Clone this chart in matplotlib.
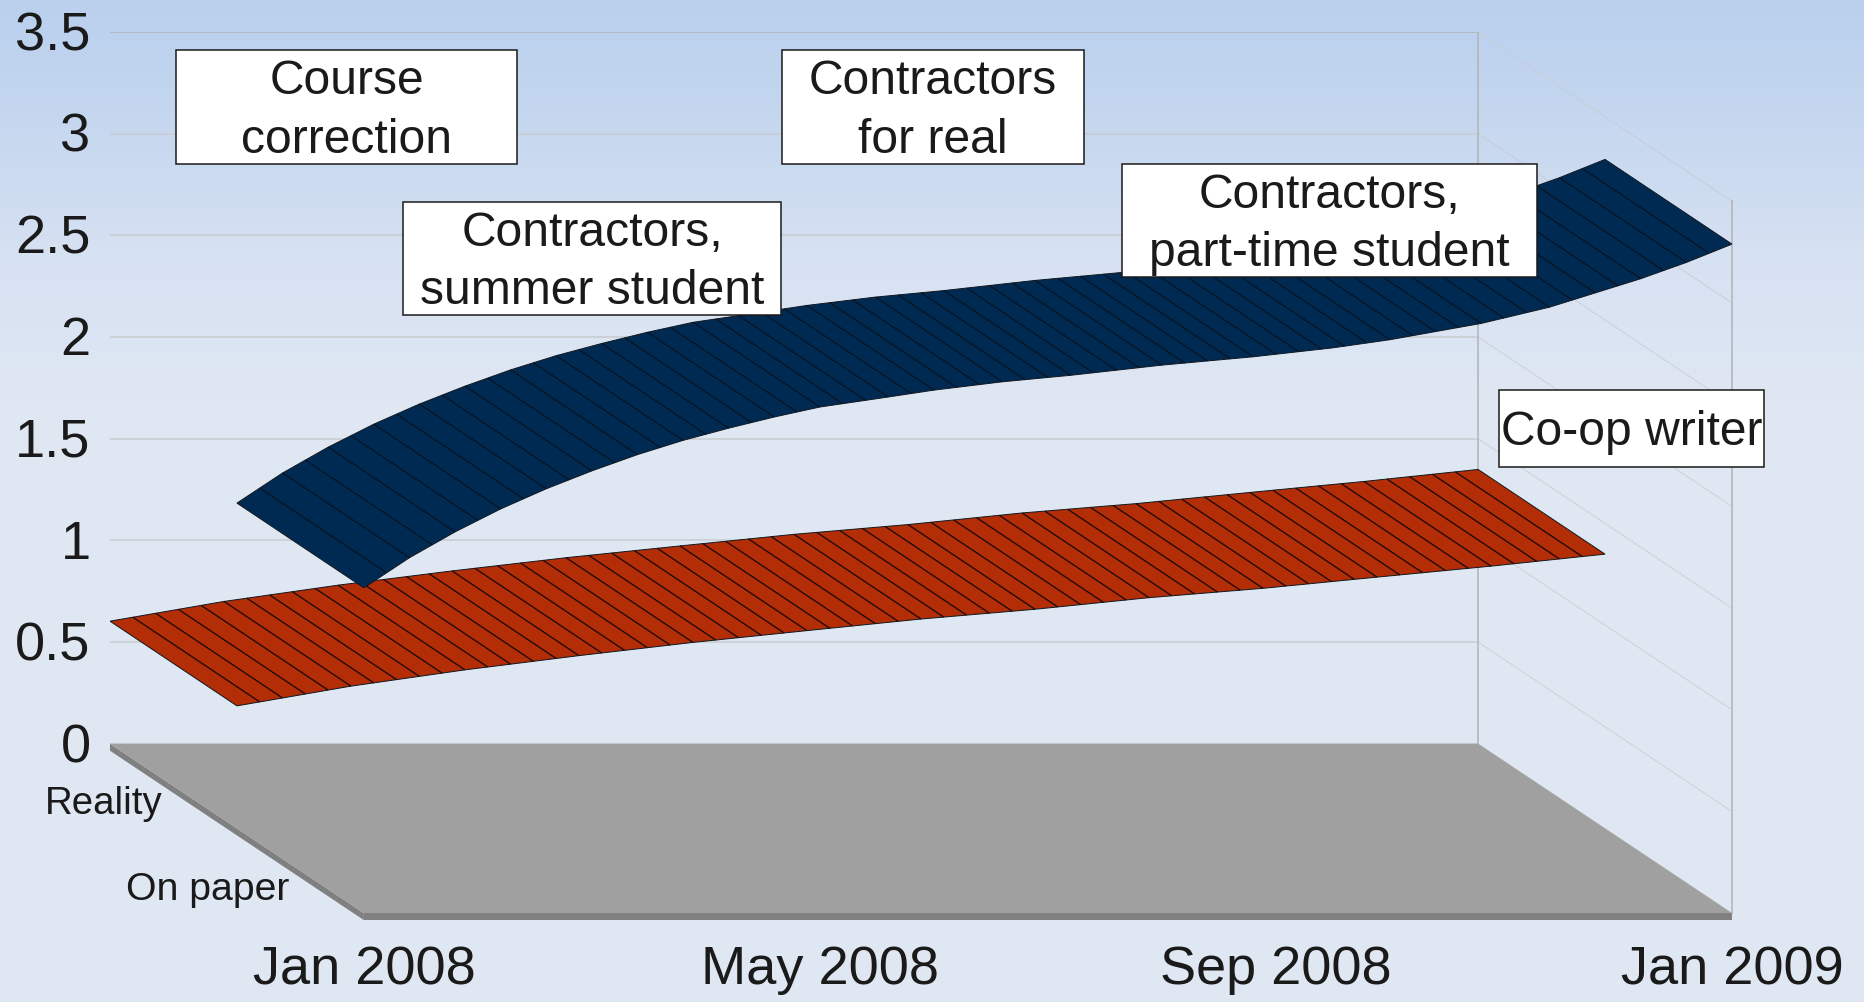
import numpy as np
import matplotlib
matplotlib.use("Agg")
import matplotlib.pyplot as plt
from matplotlib.colors import to_rgb
from matplotlib.patches import Polygon, Rectangle
from matplotlib.collections import LineCollection
from matplotlib.transforms import ScaledTranslation

plt.rcParams['font.family'] = ['Liberation Sans', 'DejaVu Sans']

# ---- data ----
reality_months = [0, 1, 2, 3, 4, 5, 6, 7, 8, 9, 10, 11, 12]
reality_values = [0.603, 0.70, 0.78, 0.85, 0.915, 0.973, 1.03, 1.078, 1.135, 1.181, 1.236, 1.29, 1.349]
paper_months = [0, 0.4, 0.8, 1.2, 1.6, 2, 2.4, 2.8, 3.2, 3.6, 4, 4.5, 5, 5.6, 6.2, 7, 7.8, 8.5, 9,
                9.8, 10.4, 10.8, 11.2, 11.6, 12]
paper_values = [1.60, 1.748, 1.875, 1.988, 2.087, 2.175, 2.255, 2.325, 2.385, 2.44, 2.489, 2.53, 2.572,
                2.613, 2.645, 2.695, 2.736, 2.78, 2.82, 2.90, 2.98, 3.05, 3.12, 3.20, 3.29]
y_ticks = [0, 0.5, 1, 1.5, 2, 2.5, 3, 3.5]
y_tick_labels = ['0', '0.5', '1', '1.5', '2', '2.5', '3', '3.5']
x_tick_months = [0, 4, 8, 12]
x_tick_labels = ['Jan 2008', 'May 2008', 'Sep 2008', 'Jan 2009']
depth_labels = ['Reality', 'On paper']

# ---- oblique projection: one unit of depth shifts right and down ----
W, H = 1865, 1002
DX = 2.227      # months of screen shift for full depth
DY = 0.833      # value units of screen shift for full depth
THICK = 0.034   # floor slab thickness in value units
SPAN = 12
YMAX = 3.5

def px(month, depth, value):
    return np.asarray(month, float) + DX * depth, np.asarray(value, float) - DY * depth

fig = plt.figure(figsize=(W / 100, H / 100), dpi=100)

# gradient background
stops_y = [0, 40, 180, 250, 400, 1002]
stops_c = [to_rgb(c) for c in ['#bad0ec', '#bdd2ee', '#ccdbf0', '#d6e1f2', '#dfe7f2', '#dfe7f2']]
rows = np.arange(H)
grad = np.stack([np.interp(rows, stops_y, [c[i] for c in stops_c]) for i in range(3)], axis=1)[:, None, :]
bg = fig.add_axes([0, 0, 1, 1], zorder=-1)
bg.imshow(grad, aspect='auto')
bg.axis('off')

left, right, top, bottom = 110, 1732, 32, 913.2
ax = fig.add_axes([left / W, 1 - bottom / H, (right - left) / W, (bottom - top) / H])
ax.patch.set_alpha(0)
ax.set_xlim(0, SPAN + DX)
ax.set_ylim(-DY, YMAX)
for s in ax.spines.values():
    s.set_visible(False)

# walls
grid_c = '#c8ccd1'
for v in y_ticks:
    c = '#aeb3ba' if v == 3.5 else grid_c
    ax.plot([0, SPAN], [v, v], color=c, lw=1.1, zorder=1)
    x, y = px([SPAN, SPAN], np.array([0, 1]), [v, v])
    ax.plot(x, y, color='#c8cbce', lw=0.55, zorder=1)
ax.plot([SPAN, SPAN], [0, YMAX], color='#b4b6b9', lw=1.2, zorder=1)
x, y = px([SPAN, SPAN], np.array([1, 1]), [0, YMAX])
ax.plot(x, y, color='#b4b6b9', lw=1.2, zorder=1, clip_on=False)

# floor slab
def P(m, d, v):
    x, y = px(m, d, v)
    return (float(x), float(y))

ax.add_patch(Polygon([P(0, 0, 0), P(0, 1, 0), P(0, 1, -THICK), P(0, 0, -THICK)],
                     closed=True, fc='#808080', ec='none', zorder=2, clip_on=False))
ax.add_patch(Polygon([P(0, 1, 0), P(SPAN, 1, 0), P(SPAN, 1, -THICK), P(0, 1, -THICK)],
                     closed=True, fc='#808080', ec='none', zorder=2, clip_on=False))
ax.add_patch(Polygon([P(0, 0, 0), P(SPAN, 0, 0), P(SPAN, 1, 0), P(0, 1, 0)],
                     closed=True, fc='#a0a0a0', ec='none', zorder=3))

# ribbons
def ribbon(months, values, d0, d1, fill, line, lw, z):
    months = np.asarray(months, float)
    values = np.asarray(values, float)
    xb, yb = px(months, d0, values)
    xf, yf = px(months, d1, values)
    pts = np.column_stack([np.r_[xb, xf[::-1]], np.r_[yb, yf[::-1]]])
    ax.add_patch(Polygon(pts, closed=True, fc=fill, ec='#101820', lw=0.7, zorder=z))
    # facet lines across the ribbon, following the depth direction
    facet = np.arange(0.2, SPAN, 0.2)
    fv = np.interp(facet, months, values)
    xa, ya = px(facet, d0, fv)
    xc, yc = px(facet, d1, fv)
    segs = [[(a, b), (c, d)] for a, b, c, d in zip(xa, ya, xc, yc)]
    ax.add_collection(LineCollection(segs, colors=line, linewidths=lw, zorder=z + 0.1))

ribbon(reality_months, reality_values, 0.0, 0.5, '#b32d07', '#1f0a04', 0.95, 4)
ribbon(paper_months, paper_values, 0.5, 1.0, '#012a52', '#06121f', 0.8, 5)

# ticks
ax.set_yticks(y_ticks, y_tick_labels, fontsize=39, color='#1a1a1a')
ax.set_xticks([m + DX for m in x_tick_months], x_tick_labels, fontsize=39, color='#1a1a1a')
ax.tick_params(axis='y', length=0, pad=14)
ax.tick_params(axis='x', length=0, pad=23)
for lab in ax.get_yticklabels():
    lab.set_transform(lab.get_transform() + ScaledTranslation(0, 0.9 / 72, fig.dpi_scale_trans))

# depth axis labels
for d, lab, off, fs in zip([0.25, 0.75], depth_labels, [(-7.8, -13), (-7.6, -13.5)], [27.6, 28.3]):
    ax.annotate(lab, xy=P(0, d, 0), xytext=off, textcoords='offset points',
                ha='right', va='center', fontsize=fs, color='#1a1a1a', annotation_clip=False)

# annotation boxes (left, top, right, bottom in figure pixels)
boxes = [
    ('Course\ncorrection', 176.3, 50.3, 516.7, 163.7, 4),
    ('Contractors\nfor real', 781.5, 50.3, 1083.5, 163.7, 4),
    ('Contractors,\nsummer student', 403, 202, 781.5, 315, 4),
    ('Contractors,\npart-time student', 1121.6, 163.5, 1537, 277, 4),
    ('Co-op writer', 1499, 390, 1764.5, 466.6, 4),
]
for text, l, t, r, b, dy in boxes:
    fig.add_artist(Rectangle((l / W, 1 - b / H), (r - l) / W, (b - t) / H, transform=fig.transFigure,
                             fc='white', ec='#1a1a1a', lw=1.1, zorder=10))
    fig.text((l + r) / 2 / W, 1 - ((t + b) / 2 + dy) / H, text, ha='center', va='center',
             fontsize=34.6, color='#1a1a1a', linespacing=1.375, zorder=11)

fig.savefig('out.png', dpi=100)
